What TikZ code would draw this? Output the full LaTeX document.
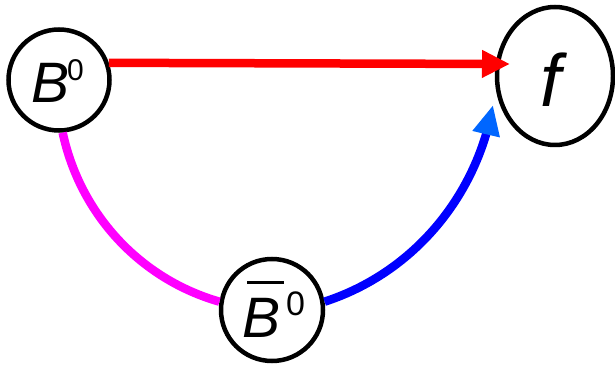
\documentclass[tikz,border=0pt]{standalone}
\usepackage{fontspec}
\setmainfont{Liberation Sans}
\usetikzlibrary{arrows.meta,bending,shapes.geometric}
\definecolor{myred}{RGB}{255,0,0}
\definecolor{mymag}{RGB}{255,0,255}
\definecolor{myblue}{RGB}{0,0,255}
\definecolor{myhead}{RGB}{0,102,255}
\tikzset{
  circnode/.style={draw, line width=4.5pt, circle, inner sep=0pt, fill=white},
  ellnode/.style={draw, line width=4.5pt, ellipse, inner sep=0pt, fill=white},
  lbl/.style={inner sep=0pt, anchor=base west},
  conn/.style={line width=8.5pt},
}
\newcommand{\bigB}{\fontsize{57}{57}\selectfont\itshape B}
\newcommand{\supz}[2]{\kern#1\raisebox{22pt}{\fontsize{#2}{#2}\selectfont\upshape 0}}
\begin{document}
\begin{tikzpicture}
\useasboundingbox (0pt,0pt) rectangle (615pt,367pt);
\node[circnode, minimum size=101pt] (B) at (59pt,287pt) {};
\node[ellnode, minimum width=116pt, minimum height=138pt] (F) at (555pt,291pt) {};
\node[circnode, minimum size=102pt] (Bb) at (272pt,57pt) {};
\node[lbl] (Btxt) at (31pt,264pt) {\bigB\supz{-2pt}{30}};
\node[lbl] (Bbtxt) at (242pt,30pt) {\rlap{\kern5pt\rule[53pt]{37pt}{3pt}}\bigB\supz{6pt}{34}};
\node[lbl] (Ftxt) at (540pt,260pt) {\fontsize{74}{74}\selectfont\itshape f};
\coordinate (redtip) at (510pt,303pt);
\coordinate (bluetip) at (493pt,262pt);
\draw[conn, myred, -{Triangle[length=28pt,width=26pt]}] (B.19) -- (redtip);
\draw[conn, mymag] (B.-86) to[out=-78, in=164, looseness=0.92] (Bb.171);
\draw[conn, myblue, -{Triangle[length=30pt,width=26pt,color=myhead]}] (Bb.9) to[out=18, in=-100, looseness=0.92] (bluetip);
\end{tikzpicture}
\end{document}
